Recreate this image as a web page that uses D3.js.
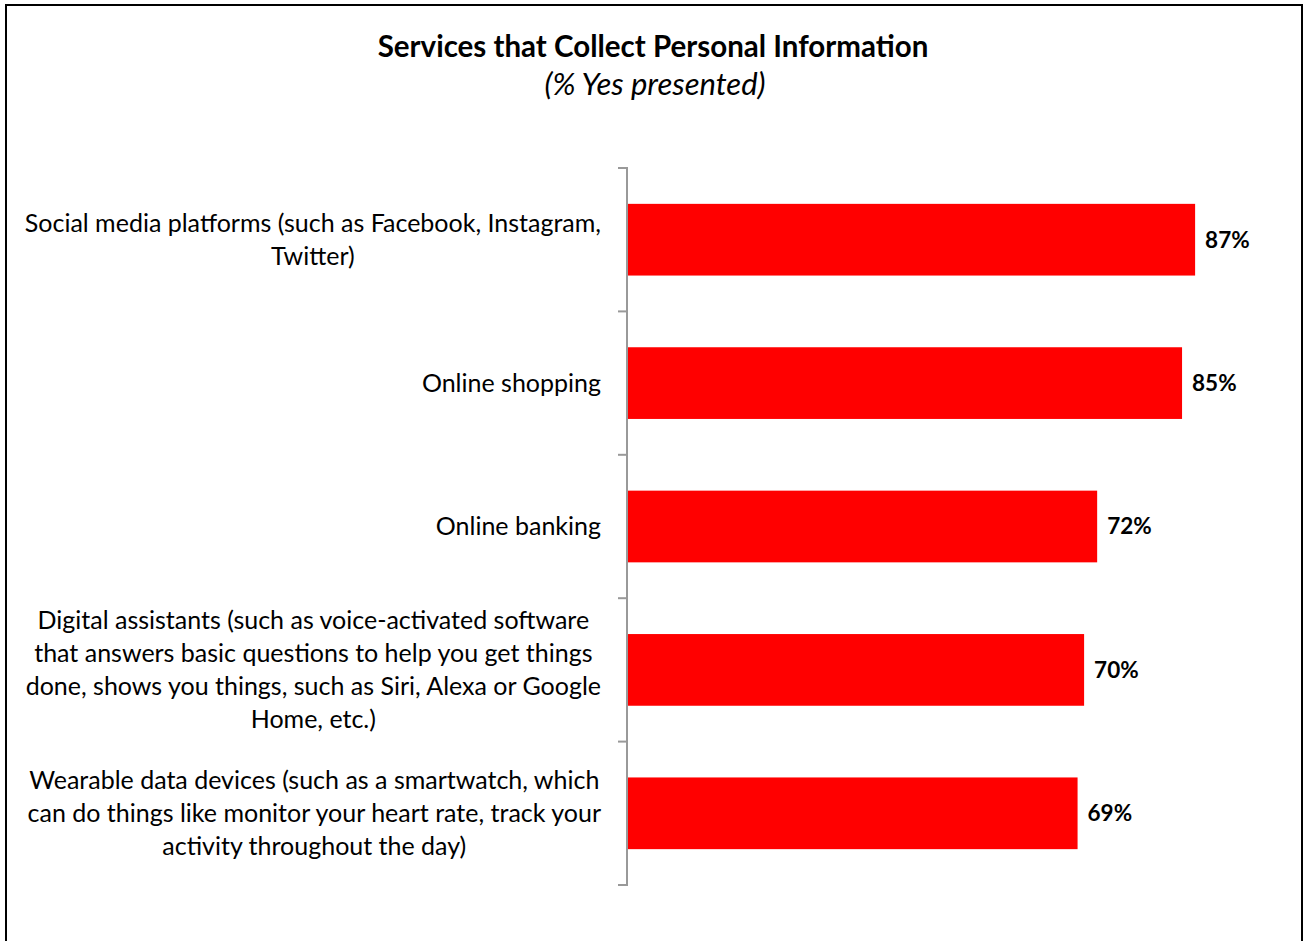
<!DOCTYPE html>
<html><head><meta charset="utf-8">
<script src="https://cdn.jsdelivr.net/npm/d3@7"></script>
<style>body{margin:0;background:#fff}svg{display:block}</style>
</head><body>
<svg id="c" width="1305" height="941"></svg>
<script>
const categories = [
  "Social media platforms (such as Facebook, Instagram,\nTwitter)",
  "Online shopping",
  "Online banking",
  "Digital assistants (such as voice-activated software\nthat answers basic questions to help you get things\ndone, shows you things, such as Siri, Alexa or Google\nHome, etc.)",
  "Wearable data devices (such as a smartwatch, which\ncan do things like monitor your heart rate, track your\nactivity throughout the day)"
];
const values = [87, 85, 72, 70, 69];
const title = "Services that Collect Personal Information";
const subtitle = "(% Yes presented)";

const svg = d3.select("#c");
const font = "Lato, 'Open Sans', sans-serif";

svg.append("rect").attr("x",6).attr("y",5).attr("width",1296).attr("height",960)
  .attr("fill","none").attr("stroke","#000").attr("stroke-width",2);

svg.append("text").attr("x",653).attr("y",57).attr("text-anchor","middle")
  .attr("font-family",font).attr("font-weight","bold").attr("font-size",29.5).text(title);
svg.append("text").attr("x",655).attr("y",95).attr("text-anchor","middle")
  .attr("font-family",font).attr("font-style","italic").attr("font-size",31).text(subtitle);

const x0 = 627;
const x = d3.scaleLinear().domain([0,100]).range([x0, x0+653]);
const y = d3.scaleBand().domain(categories).range([168, 885]).paddingInner(0.5).paddingOuter(0.25);
const yb = d3.scaleBand().domain(categories).range([168, 885]);

// bars
svg.selectAll("rect.bar").data(values).enter().append("rect").attr("class","bar")
  .attr("x", x(0)).attr("y",(d,i)=>y(categories[i]))
  .attr("width", d=>x(d)-x(0)).attr("height", y.bandwidth()).attr("fill","#ff0000");

// axis
const ax = svg.append("g").attr("stroke","#999").attr("stroke-width",2);
ax.append("line").attr("x1",x0).attr("x2",x0).attr("y1",167).attr("y2",886);
const edges = categories.map(c=>yb(c)).concat([885]);
ax.selectAll("line.t").data(edges).enter().append("line").attr("class","t")
  .attr("x1",x0-9).attr("x2",x0).attr("y1",d=>d).attr("y2",d=>d);

// category labels (lines centred within block, block right-aligned)
const lh = 33, rightX = 601;
categories.forEach((c,i)=>{
  const lines = c.split("\n");
  const cy = yb(c) + yb.bandwidth()/2;
  const t = svg.append("text").attr("text-anchor","middle").attr("font-family",font)
    .attr("font-size",25).attr("fill","#000");
  const spans = lines.map((l,j)=>t.append("tspan").attr("y", cy + (j-(lines.length-1)/2)*lh).attr("dy","0.35em").text(l));
  const w = d3.max(spans, s=>s.node().getComputedTextLength());
  spans.forEach(s=>s.attr("x", rightX - w/2));
});

// value labels
svg.selectAll("text.v").data(values).enter().append("text").attr("class","v")
  .attr("x", d=>x(d)+10).attr("y",(d,i)=>yb(categories[i])+yb.bandwidth()/2).attr("dy","0.35em")
  .attr("font-family",font).attr("font-weight","bold").attr("font-size",22.5).text(d=>d+"%");
</script>
</body></html>
